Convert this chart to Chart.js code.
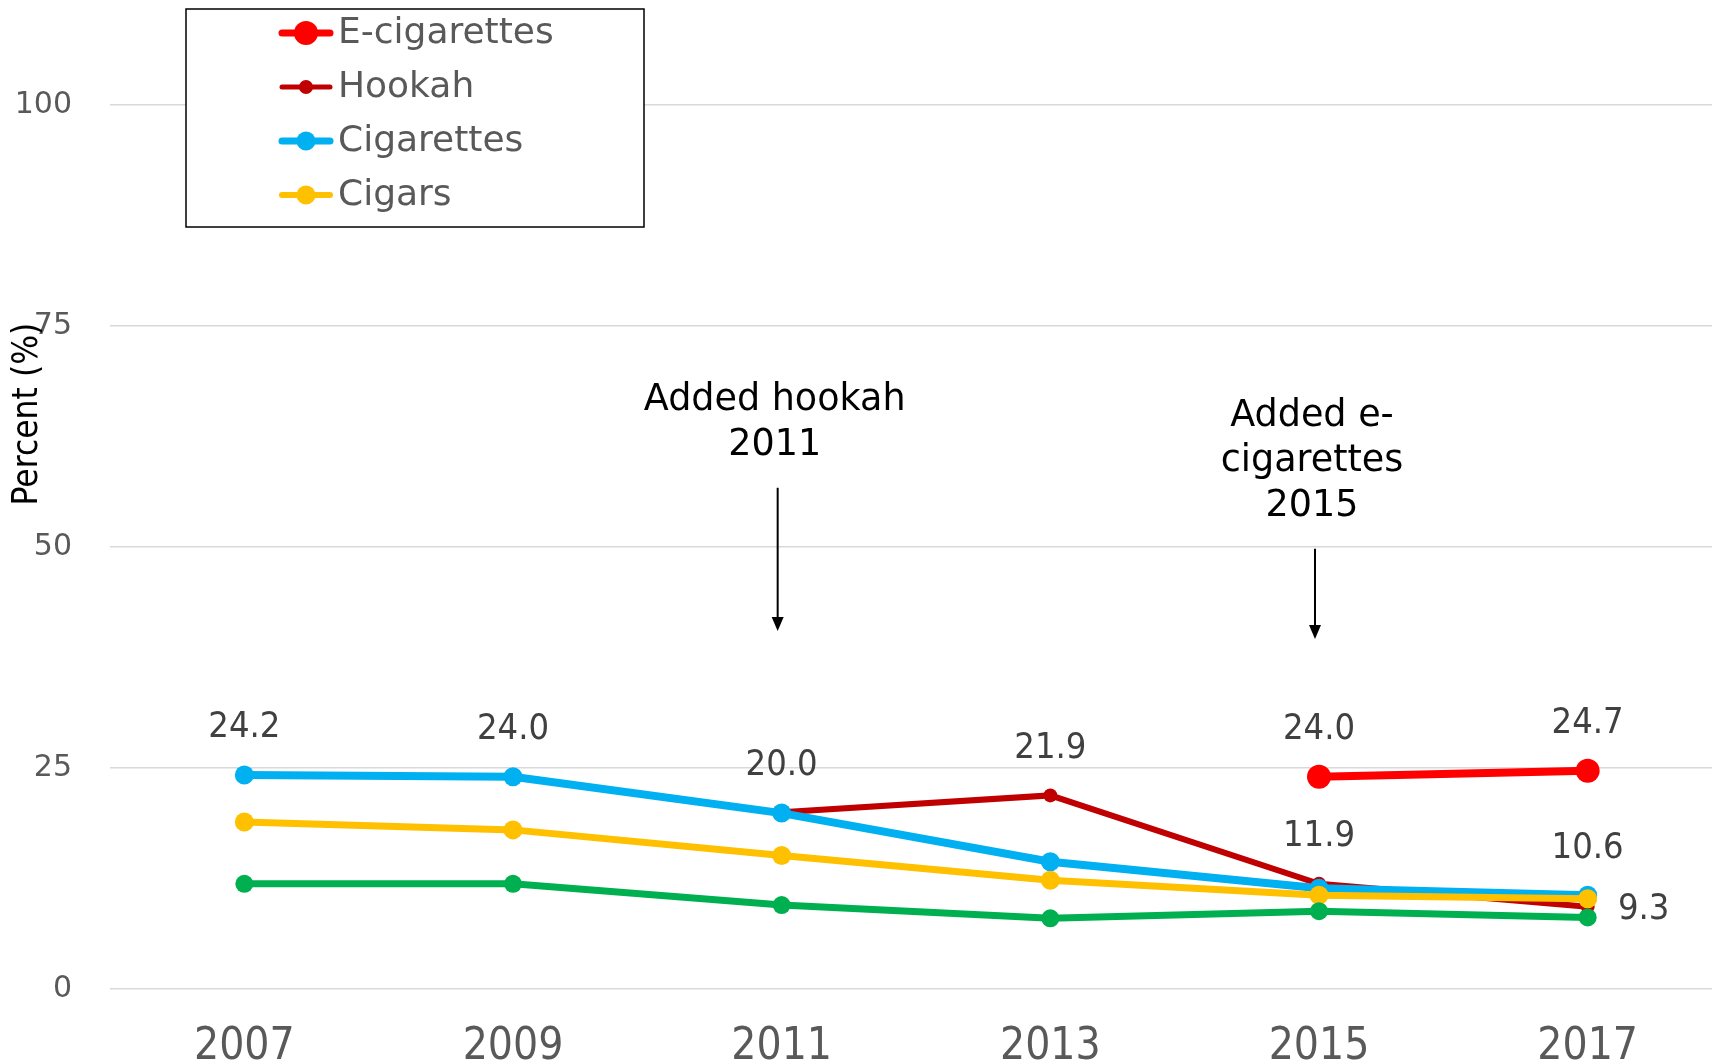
<!DOCTYPE html>
<html>
<head>
<meta charset="utf-8">
<script src="https://cdn.jsdelivr.net/npm/chart.js@4.4.0/dist/chart.umd.min.js"></script>
<style>
  html, body { margin: 0; padding: 0; background: #fff; overflow: hidden; }
  #wrap { width: 1712px; height: 1063px; overflow: hidden; }
  #tobaccoChart { display: block; }
</style>
</head>
<body>
<!-- plot runs a little past the right edge, so the canvas is wider than the frame -->
<div id="wrap"><canvas id="tobaccoChart" width="1734" height="1063"></canvas></div>
<script>
// Survey years and prevalence (%) per product
const years = ['2007', '2009', '2011', '2013', '2015', '2017'];
const eCigarettes = [null, null, null, null, 24.0, 24.7];
const hookah = [null, null, 20.0, 21.9, 11.9, 9.3];
const cigarettes = [24.2, 24.0, 19.9, 14.4, 11.4, 10.6];
const cigars = [18.9, 18.0, 15.1, 12.3, 10.6, 10.2];
const smokeless = [11.9, 11.9, 9.5, 8.0, 8.8, 8.1];
const yTicks = [0, 25, 50, 75, 100];

// Which points get a value printed next to them: [series, year index, placement]
const valueLabels = [
    ['Cigarettes', 0, 'above'],
    ['Cigarettes', 1, 'above'],
    ['Hookah', 2, 'above'],
    ['Hookah', 3, 'above'],
    ['E-cigarettes', 4, 'above'],
    ['E-cigarettes', 5, 'above'],
    ['Hookah', 4, 'above'],
    ['Cigarettes', 5, 'above'],
    ['Hookah', 5, 'right']
];

// Survey change notes with arrows (arrow runs from "top" down to "tip", in %)
const notes = [
    { year: '2011', lines: ['Added hookah', '2011'], top: 56.7, tip: 40.5 },
    { year: '2015', lines: ['Added e-', 'cigarettes', '2015'], top: 49.8, tip: 39.6 }
];

const condensed = "'DejaVu Sans Condensed', 'Liberation Sans Narrow', 'DejaVu Sans', sans-serif";
const regular = "'DejaVu Sans', Verdana, sans-serif";

function series(label, data, color, width, radius, order, inLegend) {
    return {
        label, data, order, inLegend,
        borderColor: color,
        backgroundColor: color,
        pointBackgroundColor: color,
        pointBorderColor: color,
        borderWidth: width,
        pointRadius: radius,
        pointHoverRadius: radius,
        pointBorderWidth: 0,
        tension: 0,
        spanGaps: false
    };
}

const datasets = [
    series('E-cigarettes', eCigarettes, '#ff0000', 8, 12, 0, true),
    series('Hookah', hookah, '#c00000', 6, 7, 4, true),
    series('Cigarettes', cigarettes, '#00b0f0', 8, 9.5, 3, true),
    series('Cigars', cigars, '#ffc000', 7, 9.5, 2, true),
    series('Smokeless tobacco', smokeless, '#00b050', 7, 9, 1, false)
];

// Values printed beside selected points
const valueLabelPlugin = {
    id: 'valueLabels',
    afterDatasetsDraw(chart) {
        const ctx = chart.ctx;
        ctx.save();
        ctx.font = '36px ' + condensed;
        ctx.fillStyle = '#404040';
        ctx.textAlign = 'center';
        ctx.textBaseline = 'middle';
        valueLabels.forEach(([name, idx, place]) => {
            const dsIndex = chart.data.datasets.findIndex(d => d.label === name);
            const pt = chart.getDatasetMeta(dsIndex).data[idx];
            const value = chart.data.datasets[dsIndex].data[idx];
            const text = value.toFixed(1);
            if (place === 'right') {
                ctx.fillText(text, pt.x + 56, pt.y + 3);
            } else {
                ctx.fillText(text, pt.x, pt.y - 47);
            }
        });
        ctx.restore();
    }
};

// Notes with downward arrows
const notesPlugin = {
    id: 'notes',
    afterDraw(chart) {
        const ctx = chart.ctx;
        const x = chart.scales.x;
        const y = chart.scales.y;
        ctx.save();
        notes.forEach(n => {
            const cx = x.getPixelForValue(years.indexOf(n.year)) - 4;
            const yTop = y.getPixelForValue(n.top);
            const yTip = y.getPixelForValue(n.tip);

            ctx.strokeStyle = '#000';
            ctx.fillStyle = '#000';
            ctx.lineWidth = 2;
            ctx.beginPath();
            ctx.moveTo(cx, yTop);
            ctx.lineTo(cx, yTip - 12);
            ctx.stroke();
            ctx.beginPath();
            ctx.moveTo(cx - 6, yTip - 14);
            ctx.lineTo(cx + 6, yTip - 14);
            ctx.lineTo(cx, yTip);
            ctx.closePath();
            ctx.fill();

            ctx.font = '36.5px ' + regular;
            ctx.textAlign = 'center';
            ctx.textBaseline = 'middle';
            const lineGap = 45;
            const last = yTop - 42;
            n.lines.forEach((t, i) => {
                ctx.fillText(t, cx - 3, last - (n.lines.length - 1 - i) * lineGap);
            });
        });
        ctx.restore();
    }
};

// Boxed legend in the top-left corner plus the rotated axis title
const legendPlugin = {
    id: 'boxLegend',
    afterDraw(chart) {
        const ctx = chart.ctx;
        ctx.save();
        ctx.fillStyle = '#fff';
        ctx.fillRect(186, 9, 458, 218);
        ctx.strokeStyle = '#000';
        ctx.lineWidth = 1.5;
        ctx.strokeRect(186, 9, 458, 218);

        const items = chart.data.datasets.filter(d => d.inLegend);
        items.forEach((d, i) => {
            const cy = 33 + i * 54;
            ctx.strokeStyle = d.borderColor;
            ctx.lineWidth = d.borderWidth - 1;
            ctx.lineCap = 'round';
            ctx.beginPath();
            ctx.moveTo(282, cy);
            ctx.lineTo(330, cy);
            ctx.stroke();
            ctx.fillStyle = d.borderColor;
            ctx.beginPath();
            ctx.arc(306, cy, d.pointRadius, 0, Math.PI * 2);
            ctx.fill();

            ctx.fillStyle = '#595959';
            ctx.font = '36px ' + regular;
            ctx.textAlign = 'left';
            ctx.textBaseline = 'middle';
            ctx.fillText(d.label, 338, cy + 1);
        });

        // y axis title, overlapping the tick column
        ctx.translate(28, 414);
        ctx.rotate(-Math.PI / 2);
        ctx.fillStyle = '#000';
        ctx.font = '35px ' + condensed;
        ctx.textAlign = 'center';
        ctx.textBaseline = 'middle';
        ctx.fillText('Percent (%)', 0, 0);
        ctx.restore();
    }
};

const ctx = document.getElementById('tobaccoChart').getContext('2d');
new Chart(ctx, {
    type: 'line',
    data: { labels: years, datasets },
    options: {
        responsive: false,
        animation: false,
        events: [],
        layout: { padding: { top: 105, left: 0, right: 0, bottom: 0 } },
        plugins: {
            legend: { display: false },
            tooltip: { enabled: false }
        },
        scales: {
            x: {
                offset: true,
                grid: { display: false },
                border: { display: false },
                ticks: {
                    color: '#595959',
                    font: { family: condensed, size: 44 },
                    padding: 24,
                    maxRotation: 0,
                    autoSkip: false
                },
                afterFit(scale) { scale.height = 74; }
            },
            y: {
                min: 0,
                max: 100,
                afterBuildTicks(scale) { scale.ticks = yTicks.map(v => ({ value: v })); },
                grid: { color: '#d9d9d9', lineWidth: 1.5, drawTicks: false },
                border: { display: false },
                ticks: {
                    color: '#595959',
                    font: { family: regular, size: 30 },
                    padding: 38
                },
                afterFit(scale) { scale.width = 110; }
            }
        }
    },
    plugins: [valueLabelPlugin, notesPlugin, legendPlugin]
});
</script>
</body>
</html>
